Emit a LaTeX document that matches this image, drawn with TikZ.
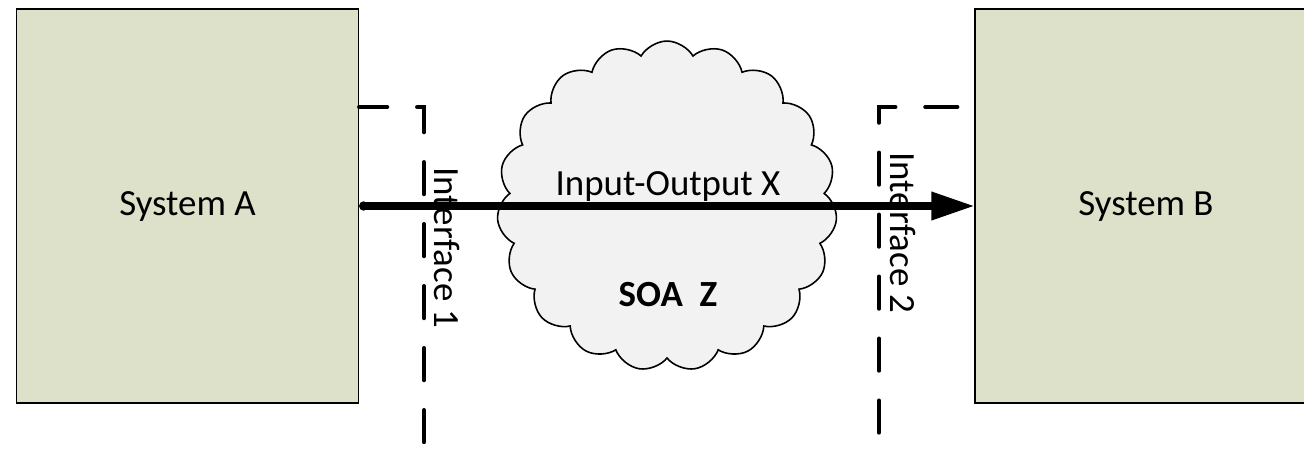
\documentclass[tikz,border=0pt]{standalone}
\usepackage{fontspec}
\setmainfont{Carlito}
\usepackage{tikz}
\usetikzlibrary{shapes, arrows.meta, positioning}
\definecolor{SysGreen}{HTML}{DDE1CA}
\definecolor{CloudGray}{HTML}{F2F2F2}

\begin{document}
\begin{tikzpicture}[
			x=0.02cm, y=-0.02cm,
			box/.style={rectangle, draw, line width=0.8pt, fill=SysGreen, minimum width=6.84cm, minimum height=7.88cm, font=\fontsize{21}{25}\selectfont},
			soacloud/.style={cloud, cloud puffs=19, cloud puff arc=120, aspect=1.05, draw, line width=0.9pt, fill=CloudGray, minimum width=6.8cm, minimum height=6.6cm},
			border/.style={line width=2.4pt, line cap=round, dash pattern=on 0.64cm off 0.6cm},
			flow/.style={line width=4pt, {Circle[length=0.18cm]}-{Triangle[length=0.86cm, width=0.54cm]}},
			lbl/.style={inner sep=0pt, font=\fontsize{21}{25}\selectfont},
			]
			\useasboundingbox (0,0) rectangle (1304,453);
			\clip (0,0) rectangle (1304,453);
			\node (sysA) [box] at (187.5,206) {System A};
			\node (sysB) [box] at (1146,206) {System B};
			\node (soa) [soacloud] at (667,206) {};
			
			% interface borders
			\coordinate (if1) at (424,107);
			\coordinate (if1end) at (424,470);
			\coordinate (if2) at (879,107);
			\coordinate (if2end) at (879,470);
			\draw[border, dash phase=0.08cm] (sysA.east |- if1) -- (if1) -- (if1end);
			\draw[border, dash phase=0.9cm] (sysB.west |- if2) -- (if2) -- (if2end);
			
			\draw[flow] (sysA.east) -- (sysB.west);
			
			\node (io) [lbl, anchor=base] at (668,195) {Input-Output X};
			\node (soaname) [lbl, anchor=base, font=\fontsize{21}{25}\selectfont\bfseries] at (668,306) {SOA~~Z};
			\node (iface1) [lbl, rotate=-90] at (447,248) {Interface 1};
			\node (iface2) [lbl, rotate=-90] at (903,233) {Interface 2};
		\end{tikzpicture}
\end{document}
